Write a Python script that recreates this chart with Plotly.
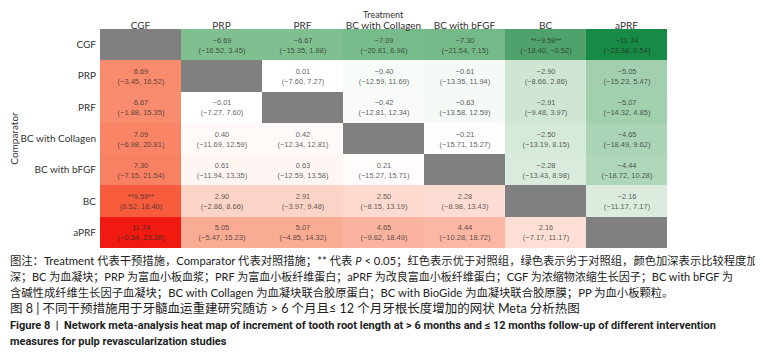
import plotly.graph_objects as go

treatments = ["CGF", "PRP", "PRF", "BC with Collagen", "BC with bFGF", "BC", "aPRF"]
comparators = ["CGF", "PRP", "PRF", "BC with Collagen", "BC with bFGF", "BC", "aPRF"]

# effect estimates (row = comparator, column = treatment)
row_cgf = [None, -6.69, -6.67, -7.09, -7.30, -9.59, -11.74]
row_prp = [6.69, None, 0.01, -0.40, -0.61, -2.90, -5.05]
row_prf = [6.67, -0.01, None, -0.42, -0.63, -2.91, -5.07]
row_bcc = [7.09, 0.40, 0.42, None, -0.21, -2.50, -4.65]
row_bfgf = [7.30, 0.61, 0.63, 0.21, None, -2.28, -4.44]
row_bc = [9.59, 2.90, 2.91, 2.50, 2.28, None, -2.16]
row_aprf = [11.74, 5.05, 5.07, 4.65, 4.44, 2.16, None]

# confidence intervals
ci_cgf = [None, "(−16.52, 3.45)", "(−15.35, 1.88)", "(−20.81, 6.98)", "(−21.54, 7.15)", "(−18.40, −0.52)", "(−23.38, 0.54)"]
ci_prp = ["(−3.45, 16.52)", None, "(−7.60, 7.27)", "(−12.59, 11.69)", "(−13.35, 11.94)", "(−8.66, 2.86)", "(−15.23, 5.47)"]
ci_prf = ["(−1.88, 15.35)", "(−7.27, 7.60)", None, "(−12.81, 12.34)", "(−13.58, 12.59)", "(−9.48, 3.97)", "(−14.32, 4.85)"]
ci_bcc = ["(−6.98, 20.81)", "(−11.69, 12.59)", "(−12.34, 12.81)", None, "(−15.71, 15.27)", "(−13.19, 8.15)", "(−18.49, 9.62)"]
ci_bfgf = ["(−7.15, 21.54)", "(−11.94, 13.35)", "(−12.59, 13.58)", "(−15.27, 15.71)", None, "(−13.43, 8.98)", "(−18.72, 10.28)"]
ci_bc = ["(0.52, 18.40)", "(−2.86, 8.66)", "(−3.97, 9.48)", "(−8.15, 13.19)", "(−8.98, 13.43)", None, "(−11.17, 7.17)"]
ci_aprf = ["(−0.54, 23.38)", "(−5.47, 15.23)", "(−4.85, 14.32)", "(−9.62, 18.49)", "(−10.28, 18.72)", "(−7.17, 11.17)", None]

# significant cells (P < 0.05)
significant = [(0, 5), (5, 0)]

z = [row_cgf, row_prp, row_prf, row_bcc, row_bfgf, row_bc, row_aprf]
cis = [ci_cgf, ci_prp, ci_prf, ci_bcc, ci_bfgf, ci_bc, ci_aprf]

text = []
for i, (zr, cr) in enumerate(zip(z, cis)):
    tr = []
    for j, (v, c) in enumerate(zip(zr, cr)):
        if v is None:
            tr.append("")
            continue
        s = f"{v:.2f}".replace("-", "−")
        if (i, j) in significant:
            s = f"**{s}**"
        tr.append(f"{s}<br>{c}")
    text.append(tr)

colorscale = [
    [0.0, "#178a45"],
    [0.092, "#4fa26b"],
    [0.215, "#7fbf90"],
    [0.376, "#cfe6d4"],
    [0.5, "#ffffff"],
    [0.624, "#fcd4c7"],
    [0.715, "#f9ab94"],
    [0.785, "#f98b6d"],
    [0.908, "#f75c3d"],
    [1.0, "#f01a10"],
]

fig = go.Figure(go.Heatmap(
    z=z, x=treatments, y=comparators, text=text,
    texttemplate="%{text}",
    textfont=dict(size=7.5, color="rgba(40,40,40,0.75)", family="Liberation Sans"),
    colorscale=colorscale, zmin=-11.74, zmax=11.74, showscale=False,
    xgap=0, ygap=0, hoverinfo="skip",
))

# page has an 8px body margin, so figure coordinates are page coordinates minus 8
W, H = 755, 347
L, R, T, B = 92, 96, 21, 107
ph = H - T - B
pw = W - L - R

fig.update_layout(
    width=W, height=H,
    margin=dict(l=L, r=R, t=T, b=B),
    paper_bgcolor="white", plot_bgcolor="#808080",
    font=dict(family="Lato", color="#333"),
    xaxis=dict(side="top", showgrid=False, zeroline=False, ticks="", automargin=False,
               ticklabelstandoff=-3,
               tickfont=dict(size=10, family="Lato", color="#333")),
    yaxis=dict(autorange="reversed", showgrid=False, zeroline=False, ticks="", automargin=False,
               ticklabelstandoff=3,
               tickfont=dict(size=10, family="Lato", color="#333"),
               title=dict(text="Comparator", font=dict(size=10, family="Lato", color="#333"), standoff=2)),
)

# x-axis title placed at the very top of the figure
fig.add_annotation(
    text="Treatment", xref="paper", yref="paper", x=0.5, y=1,
    yshift=T + 1, xanchor="center", yanchor="top", showarrow=False,
    font=dict(size=9, family="Lato", color="#333"),
)

cap_font = "Lato, Noto Sans CJK SC"
en_font = "Roboto, Noto Sans CJK SC"
lines = [
    ("图注：Treatment 代表干预措施，Comparator 代表对照措施；** 代表 <i>P</i> < 0.05；红色表示优于对照组，绿色表示劣于对照组，颜色加深表示比较程度加", 252, 11.3, cap_font),
    ("深；BC 为血凝块；PRP 为富血小板血浆；PRF 为富血小板纤维蛋白；aPRF 为改良富血小板纤维蛋白；CGF 为浓缩物浓缩生长因子；BC with bFGF 为", 268, 11.0, cap_font),
    ("含碱性成纤维生长因子血凝块；BC with Collagen 为血凝块联合胶原蛋白；BC with BioGide 为血凝块联合胶原膜；PP 为血小板颗粒。", 284, 11.3, cap_font),
    ("图 8 | 不同干预措施用于牙髓血运重建研究随访 > 6 个月且≤ 12 个月牙根长度增加的网状 Meta 分析热图", 300, 12.5, cap_font),
    ("<b>Figure 8  |  Network meta-analysis heat map of increment of tooth root length at > 6 months and ≤ 12 months follow-up of different intervention</b>", 317, 11, en_font),
    ("<b>measures for pulp revascularization studies</b>", 333, 11, en_font),
]
for txt, ypx, fs, fam in lines:
    fig.add_annotation(
        text=txt, xref="paper", yref="paper",
        x=(0 - L) / pw, y=(H - B - ypx) / ph,
        xanchor="left", yanchor="middle", showarrow=False,
        font=dict(size=fs, family=fam, color="#222"),
    )

fig.write_html("out.html")
